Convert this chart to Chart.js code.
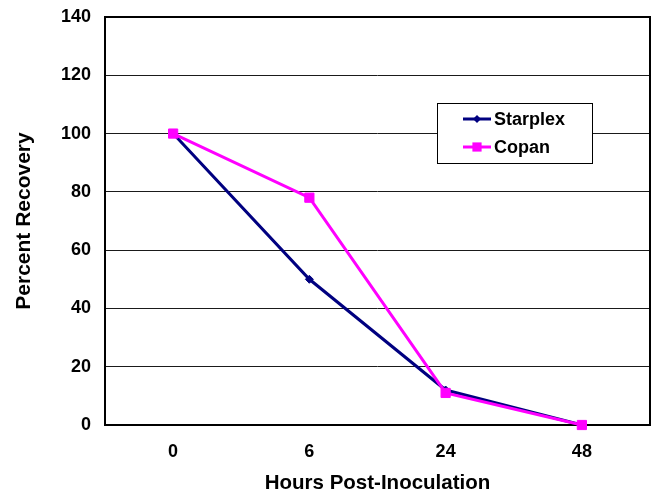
<!DOCTYPE html>
<html>
  <head>
    <script src="https://cdn.jsdelivr.net/npm/chart.js@4/dist/chart.umd.min.js"></script>
    <style>
      body { margin: 0; background: #fff; }
      #wrap { width: 654px; height: 495px; }
    </style>
  </head>
  <body>
    <div id="wrap"><canvas id="canvas"></canvas></div>
    <script>
      const hours = ['0', '6', '24', '48'];
      const starplex = [100, 50, 12, 0];
      const copan = [100, 78, 11, 0];
      const yMin = 0, yMax = 140, yStep = 20;

      const FONT = 'Arial, "Liberation Sans", sans-serif';

      // black frame round the plot area
      const plotFrame = {
        id: 'plotFrame',
        beforeDatasetsDraw(chart) {
          const { ctx, chartArea: a } = chart;
          ctx.save();
          ctx.strokeStyle = '#000';
          ctx.lineWidth = 2;
          ctx.strokeRect(a.left, a.top, a.right - a.left, a.bottom - a.top);
          ctx.restore();
        },
      };

      // boxed legend sitting inside the plot
      const boxLegend = {
        id: 'boxLegend',
        afterDatasetsDraw(chart) {
          const ctx = chart.ctx;
          const bx = 437, by = 103, bw = 155, bh = 60;
          ctx.save();
          ctx.fillStyle = '#fff';
          ctx.fillRect(bx, by, bw, bh);
          ctx.strokeStyle = '#000';
          ctx.lineWidth = 1;
          ctx.strokeRect(bx + 0.5, by + 0.5, bw, bh);
          chart.data.datasets.forEach((ds, i) => {
            const y = 119 + i * 28;
            ctx.strokeStyle = ds.borderColor;
            ctx.lineWidth = ds.borderWidth;
            ctx.beginPath();
            ctx.moveTo(463, y);
            ctx.lineTo(491, y);
            ctx.stroke();
            ctx.fillStyle = ds.pointBackgroundColor;
            const r = ds.pointRadius;
            if (ds.pointStyle === 'rect') {
              const s = r * Math.SQRT1_2;
              ctx.fillRect(477 - s, y - s, 2 * s, 2 * s);
            } else {
              ctx.beginPath();
              ctx.moveTo(477, y - r);
              ctx.lineTo(477 + r, y);
              ctx.lineTo(477, y + r);
              ctx.lineTo(477 - r, y);
              ctx.closePath();
              ctx.fill();
            }
            ctx.fillStyle = '#000';
            ctx.font = 'bold 18px ' + FONT;
            ctx.textAlign = 'left';
            ctx.textBaseline = 'middle';
            ctx.fillText(ds.label, 494, y + 1);
          });
          ctx.restore();
        },
      };

      new Chart(document.getElementById('canvas'), {
        type: 'line',
        data: {
          labels: hours,
          datasets: [
            {
              label: 'Starplex',
              data: starplex,
              borderColor: '#000080',
              backgroundColor: '#000080',
              pointBackgroundColor: '#000080',
              pointBorderColor: '#000080',
              borderWidth: 3,
              pointStyle: 'rectRot',
              pointRadius: 4,
              pointBorderWidth: 1,
              tension: 0,
              clip: false,
              order: 1,
            },
            {
              label: 'Copan',
              data: copan,
              borderColor: '#FF00FF',
              backgroundColor: '#FF00FF',
              pointBackgroundColor: '#FF00FF',
              pointBorderColor: '#FF00FF',
              borderWidth: 3,
              pointStyle: 'rect',
              pointRadius: 6.5,
              pointBorderWidth: 1,
              tension: 0,
              clip: false,
              order: 0,
            },
          ],
        },
        options: {
          responsive: true,
          maintainAspectRatio: false,
          animation: false,
          layout: {
            autoPadding: false,
            padding: { top: 17, right: 4, left: 0, bottom: 0 },
          },
          plugins: {
            legend: { display: false },
            tooltip: { enabled: false },
          },
          scales: {
            x: {
              type: 'category',
              offset: true,
              grid: { display: false, drawTicks: false },
              border: { display: false },
              ticks: {
                color: '#000',
                padding: 16,
                font: { family: FONT, size: 18, weight: 'bold' },
              },
              title: {
                display: true,
                text: 'Hours Post-Inoculation',
                color: '#000',
                padding: { top: 0, bottom: 1 },
                font: { family: FONT, size: 20.5, weight: 'bold', lineHeight: 1 },
              },
              afterFit(scale) {
                scale.height = 70;
                scale.paddingLeft = 0;
                scale.paddingRight = 0;
              },
            },
            y: {
              min: yMin,
              max: yMax,
              grid: { color: '#1a1a1a', lineWidth: 1, drawTicks: false },
              border: { display: false },
              ticks: {
                stepSize: yStep,
                color: '#000',
                padding: 14,
                font: { family: FONT, size: 18, weight: 'bold' },
              },
              title: {
                display: true,
                text: 'Percent Recovery',
                color: '#000',
                padding: { top: 14, bottom: 0 },
                font: { family: FONT, size: 21, weight: 'bold', lineHeight: 1 },
              },
              afterFit(scale) {
                scale.width = 105;
                scale.paddingTop = 0;
                scale.paddingBottom = 0;
              },
            },
          },
        },
        plugins: [plotFrame, boxLegend],
      });
    </script>
  </body>
</html>
